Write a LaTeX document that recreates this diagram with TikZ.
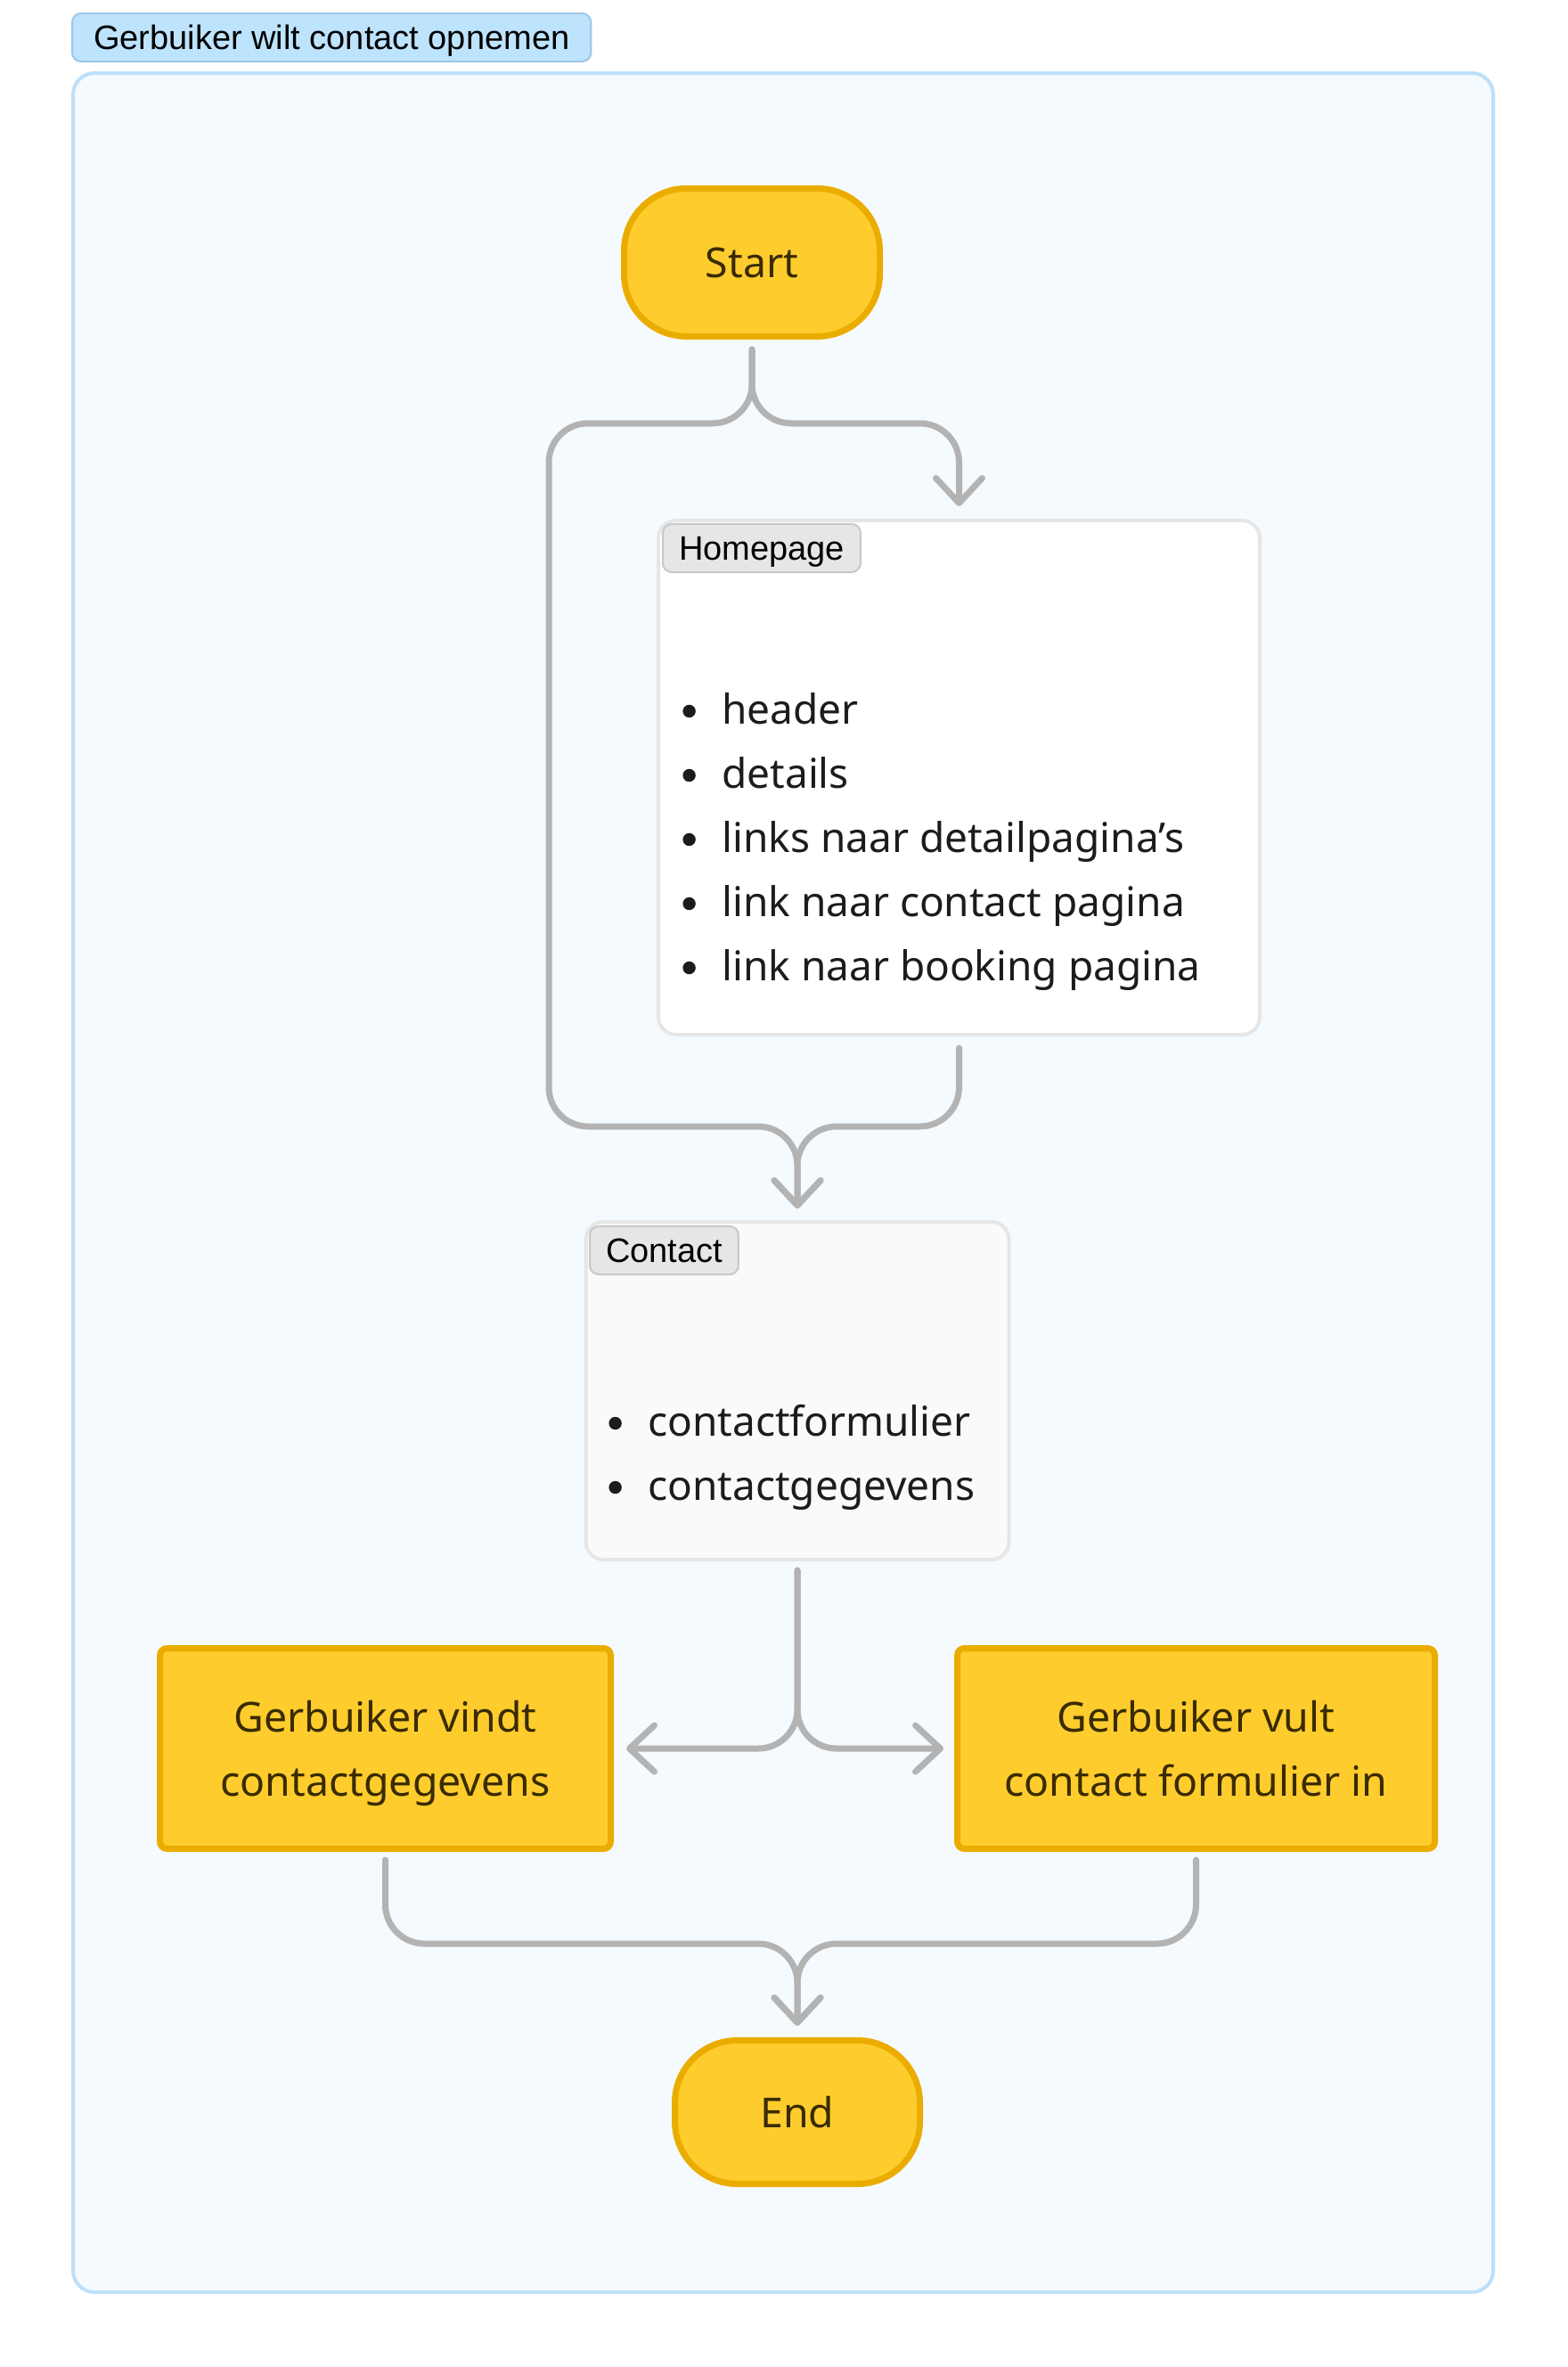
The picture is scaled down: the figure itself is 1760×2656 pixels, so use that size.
\documentclass[tikz,border=0pt]{standalone}
\usepackage{fontspec}
\setmainfont{Noto Sans}
\newfontfamily\tagfont{Liberation Sans}
\usetikzlibrary{arrows.meta,calc}
\definecolor{yfill}{HTML}{FECD2D}
\definecolor{ybord}{HTML}{EBAC00}
\definecolor{ytext}{HTML}{3A2B00}
\definecolor{cgray}{HTML}{B3B3B3}
\definecolor{ffill}{HTML}{F5FAFF}
\definecolor{fbord}{HTML}{BDE0FA}
\definecolor{btag}{HTML}{BEE3FD}
\definecolor{btagb}{HTML}{9CC6E8}
\definecolor{gtag}{HTML}{E6E6E6}
\definecolor{gtagb}{HTML}{C8C8C8}
\definecolor{pbord}{HTML}{E6E6E6}
\definecolor{cfill}{HTML}{FAFAFA}
\definecolor{itemtext}{HTML}{1C1C1C}
\tikzset{
  yel/.style={draw=ybord, fill=yfill, line width=3.5pt, text=ytext,
    font=\fontsize{23.2}{36}\selectfont, align=center, inner sep=0pt},
  term/.style={yel, rounded corners=35pt},
  proc/.style={yel, rounded corners=4pt},
  pagebox/.style={draw=pbord, line width=2pt, rounded corners=10pt, inner sep=0pt},
  tagbox/.style={draw=gtagb, fill=gtag, line width=1pt, rounded corners=5pt,
    font=\tagfont\fontsize{19}{20}\selectfont, minimum height=27pt,
    text height=13.6pt, text depth=0pt,
    inner xsep=9pt, inner ysep=0pt, anchor=north west, text=black},
  item/.style={anchor=base west, inner sep=0pt, text=itemtext,
    font=\fontsize{23}{36}\selectfont},
  conn/.style={draw=cgray, line width=3.5pt, rounded corners=22pt,
    line cap=round, line join=round},
  arr/.style={conn, -{Straight Barb[length=14pt, width=26pt, round]}},
}
\newcommand{\bul}{\makebox[22pt][l]{\tikz[baseline=0pt]\fill[itemtext] (3.6pt,7pt) circle (3.6pt);}}
\begin{document}
\begin{tikzpicture}[x=0.5pt, y=-0.5pt]
\fill[white] (0,0) rectangle (1760,2656);
\useasboundingbox (0,0) rectangle (1760,2656);

% outer frame
\node[draw=fbord, fill=ffill, line width=2pt, rounded corners=12pt,
      minimum width=797pt, minimum height=1245pt, inner sep=0pt] (frame) at (879,1327) {};
\node[tagbox, fill=btag, draw=btagb, inner xsep=12pt] (title) at (80,14) {Gerbuiker wilt contact opnemen};

% nodes
\node[term, minimum width=143.5pt, minimum height=83pt] (start) at (844,294.5) {Start};

\node[pagebox, fill=white, minimum width=337.5pt, minimum height=288.5pt] (home) at (1076.5,872.5) {};
\node[tagbox] (hometag) at (743,587) {Homepage};
\node[item] (h1) at (766,812) {\bul header};
\node[item] (h2) at (766,884) {\bul details};
\node[item] (h3) at (766,956) {\bul links naar detailpagina’s};
\node[item] (h4) at (766,1028) {\bul link naar contact pagina};
\node[item] (h5) at (766,1100) {\bul link naar booking pagina};

\node[pagebox, fill=cfill, minimum width=237.5pt, minimum height=189.5pt] (contact) at (895,1560.5) {};
\node[tagbox] (contacttag) at (661,1375) {Contact};
\node[item] (c1) at (683,1611) {\bul contactformulier};
\node[item] (c2) at (683,1683) {\bul contactgegevens};

\node[proc, minimum width=253pt, minimum height=112.5pt] (vindt) at (432.5,1962) {Gerbuiker vindt\\\raisebox{0pt}[\height][0pt]{contactgegevens}};
\node[proc, minimum width=268pt, minimum height=112.5pt] (vult) at (1342.5,1962) {Gerbuiker vult\\contact formulier in};

\node[term, minimum width=137.5pt, minimum height=80.5pt] (end) at (895,2370) {End};

% connector points
\coordinate (s1) at ($(start.south)+(0,11)$);
\coordinate (hin) at ($(home.north)+(0,-14)$);
\coordinate (hout) at ($(home.south)+(0,13)$);
\coordinate (cin) at ($(contact.north)+(0,-13)$);
\coordinate (m1) at ($(cin)+(0,-92)$);
\coordinate (lane) at ($(m1)+(-279,0)$);
\coordinate (cout) at ($(contact.south)+(0,10)$);
\coordinate (ein) at ($(end.north)+(0,-13)$);
\coordinate (m2) at ($(ein)+(0,-92)$);

% connectors
\draw[arr] (s1) -- ++(0,83) -| (hin);
\draw[arr] (s1) -- ++(0,83) -| (lane) -| (cin);
\draw[arr] (hout) |- (m1) -- (cin);
\draw[arr] (cout) |- ($(vindt.east)+(14,0)$);
\draw[arr] (cout) |- ($(vult.west)+(-12,0)$);
\draw[arr] ($(vindt.south)+(0,9)$) |- (m2) -- (ein);
\draw[arr] ($(vult.south)+(0,9)$) |- (m2) -- (ein);
\end{tikzpicture}
\end{document}
